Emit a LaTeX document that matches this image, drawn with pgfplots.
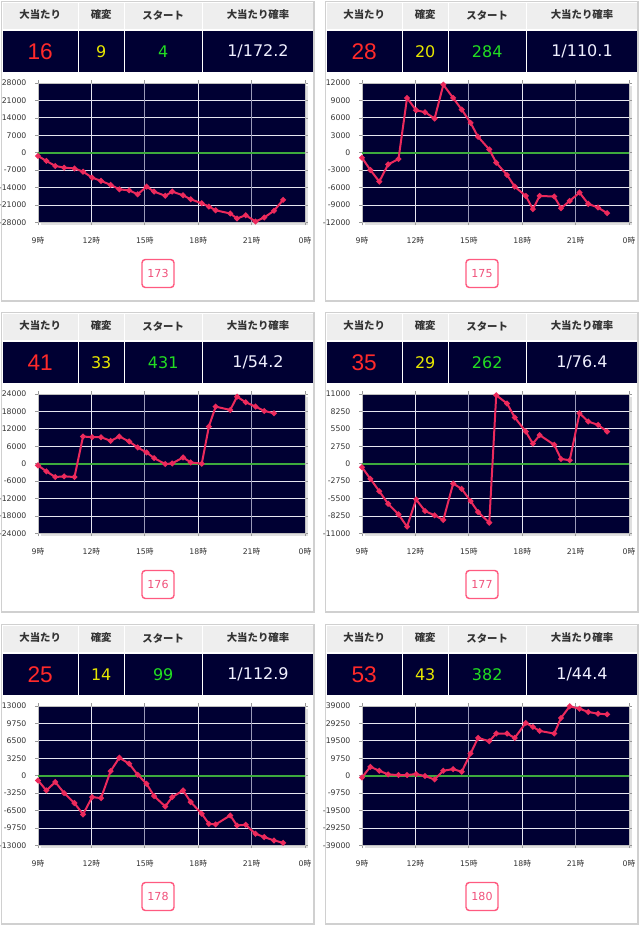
\documentclass[border=0pt]{standalone}
\usepackage{fontspec}
\usepackage{pgfplots}
\usepackage{pgfplotstable}
\pgfplotsset{compat=1.18}
\setmainfont{DejaVu Sans}
\newfontfamily\jp{Noto Sans CJK JP}
\newfontfamily\lib{Liberation Sans}
\definecolor{navy}{HTML}{000033}
\definecolor{lineC}{HTML}{EC2A5C}
\definecolor{zeroC}{HTML}{3DAA3D}
\definecolor{hdr}{HTML}{EEEEEE}
\definecolor{hdrT}{HTML}{333333}
\definecolor{frameC}{HTML}{D0D0D0}
\definecolor{redN}{HTML}{FF2A2A}
\definecolor{yelN}{HTML}{E6E600}
\definecolor{grnN}{HTML}{22DD22}
\definecolor{whtN}{HTML}{F0F0FF}
\definecolor{pinkB}{HTML}{FF5A80}
\definecolor{pinkT}{HTML}{F0507A}
\definecolor{tickC}{HTML}{333333}
\definecolor{gridW}{HTML}{E6E6F0}
\definecolor{grid2}{HTML}{9A9AB8}

\pgfplotstableread{
x a b c d e f
9.00 -1300 -860 -570 -550 -870 -930
9.47 -3300 -2970 -2630 -2380 -2740 5010
9.97 -5300 -4970 -4570 -4330 -1180 2790
10.47 -6000 -2000 -4340 -6320 -3230 740
11.05 -6300 -1090 -4570 -7990 -5100 370
11.53 -7600 9430 9370 -9920 -7210 370
12.04 -10000 7310 9140 -5630 -3980 930
12.54 -11300 6970 9140 -7460 -4170 -190
13.08 -12900 5890 7890 -8140 870 -2040
13.57 -14700 11710 9370 -8870 3360 2790
14.12 -15100 9430 7660 -3120 2240 3710
14.60 -16700 7430 5600 -3960 190 2230
15.10 -13600 5140 3890 -5890 -1490 12440
15.52 -15600 2740 1940 -7620 -3790 21170
16.15 -17300 570 -110 -9290 -5720 19310
16.54 -15600 -1710 110 10810 -3980 23590
17.15 -17100 -3830 2170 9500 -2740 23590
17.58 -18700 -5830 460 7300 -4910 21170
18.20 -20300 -7430 0 5070 -7090 29530
18.60 -21600 -9710 12800 3160 -8960 27300
18.98 -23100 -7430 19660 4510 -9080 25070
19.80 -24400 -7540 18510 2990 -7400 23590
20.18 -26400 -9540 23090 760 -9270 32310
20.67 -25100 -8290 21140 550 -9140 38810
21.22 -27600 -6860 19660 7960 -10820 37510
21.71 -26000 -8800 18170 6650 -11440 35650
22.26 -23300 -9430 17370 6130 -12060 34720
22.77 -18900 -10400 nan 5070 -12500 34350
}\data

\tikzset{hdrfont/.style={font=\jp\bfseries\fontsize{7.8}{8}\selectfont, text=hdrT}}

\newcommand{\panel}[9]{%
\begin{scope}[x=0.75pt,y=-0.75pt,shift={(#1,#2)}]
\draw[frameC,line width=1.1pt] (1.5,1.5) rectangle (314,301);
\foreach \l/\r in {3/77.5,79/123.5,125/201.5,203/313}{
  \fill[hdr] (\l,3) rectangle (\r,29);
  \fill[navy] (\l,30.5) rectangle (\r,72);
}
\node[hdrfont] at (40.2,15) {大当たり};
\node[hdrfont] at (101.2,15) {確変};
\node[hdrfont] at (163.2,15) {スタート};
\node[hdrfont] at (258,15) {大当たり確率};
\node[font=\lib\fontsize{17}{17}\selectfont, text=redN] at (40.2,51.5) {#3};
\node[font=\fontsize{12}{12}\selectfont, text=yelN] at (101.2,51.5) {#4};
\node[font=\fontsize{12}{12}\selectfont, text=grnN] at (163.2,51.5) {#5};
\node[font=\fontsize{12}{12}\selectfont, text=whtN] at (258,51.5) {#6};
\draw[pinkB, line width=1.1pt, rounded corners=2.5pt] (142,259.5) rectangle (174,287.5);
\node[font=\fontsize{8.3}{9}\selectfont, text=pinkT] at (158,273.5) {#7};
\fill[black!12] (40.5,85.5) rectangle (307.5,225);
\end{scope}
\begin{axis}[at={({(#1+38)*0.75pt},{-(#2+83)*0.75pt})}, anchor=north west,
  scale only axis, width=200.25pt, height=104.6pt,
  xmin=9, xmax=24, #8,
  clip=false,
  axis background/.style={fill=navy},
  xtick={9,12,15,18,21,24},
  xticklabels={9{\jp 時},12{\jp 時},15{\jp 時},18{\jp 時},21{\jp 時},0{\jp 時}},
  grid=major, major grid style={draw=gridW, line width=0.6pt},
  axis line style={draw=black!25, line width=0.5pt},
  tick style={draw=black!40, line width=0.5pt},
  tick align=outside, major tick length=2.2pt,
  ticklabel style={font=\fontsize{5.8}{6}\selectfont, text=tickC},
  scaled y ticks=false,
  /pgf/number format/.cd, 1000 sep={}, assume math mode=true,
  /pgfplots/.cd,
  xticklabel shift=5pt, yticklabel shift=3pt,
  ]
\draw[grid2, line width=0.9pt] (rel axis cs:0.4,0) -- (rel axis cs:0.4,1);
\draw[grid2, line width=0.9pt] (rel axis cs:0.8,0) -- (rel axis cs:0.8,1);
\draw[zeroC, line width=1.3pt] (rel axis cs:0,0.5) -- (rel axis cs:1,0.5);
\addplot[lineC, line width=1.5pt, mark=*, mark size=1.3pt, mark options={fill=lineC, draw=lineC}] table[x=x, y=#9] {\data};
\end{axis}
}

\begin{document}
\begin{tikzpicture}
\useasboundingbox (0,0) rectangle (480pt,-696pt);
\panel{0}{0}{16}{9}{4}{1/172.2}{173}{ymin=-28000,ymax=28000,ytick={-28000,-21000,-14000,-7000,0,7000,14000,21000,28000}}{a}
\panel{324}{0}{28}{20}{284}{1/110.1}{175}{ymin=-12000,ymax=12000,ytick={-12000,-9000,-6000,-3000,0,3000,6000,9000,12000}}{b}
\panel{0}{311}{41}{33}{431}{1/54.2}{176}{ymin=-24000,ymax=24000,ytick={-24000,-18000,-12000,-6000,0,6000,12000,18000,24000}}{c}
\panel{324}{311}{35}{29}{262}{1/76.4}{177}{ymin=-11000,ymax=11000,ytick={-11000,-8250,-5500,-2750,0,2750,5500,8250,11000}}{d}
\panel{0}{623}{25}{14}{99}{1/112.9}{178}{ymin=-13000,ymax=13000,ytick={-13000,-9750,-6500,-3250,0,3250,6500,9750,13000}}{e}
\panel{324}{623}{53}{43}{382}{1/44.4}{180}{ymin=-39000,ymax=39000,ytick={-39000,-29250,-19500,-9750,0,9750,19500,29250,39000}}{f}
\end{tikzpicture}
\end{document}
